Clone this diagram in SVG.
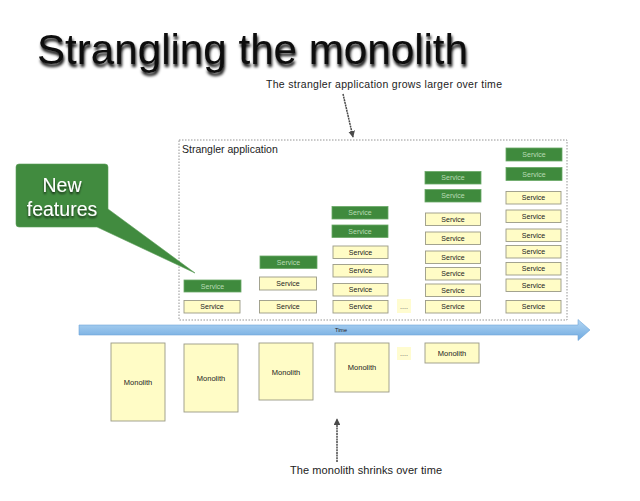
<svg xmlns="http://www.w3.org/2000/svg" width="640" height="501" viewBox="0 0 640 501">
<defs>
<filter id="tshadow" x="-5%" y="-20%" width="110%" height="160%">
<feGaussianBlur in="SourceAlpha" stdDeviation="1.8"/>
<feOffset dx="1" dy="3" result="b"/>
<feComponentTransfer><feFuncA type="linear" slope="1"/></feComponentTransfer>
<feMerge><feMergeNode/><feMergeNode in="SourceGraphic"/></feMerge>
</filter>
<filter id="wshadow" x="-10%" y="-20%" width="120%" height="150%">
<feGaussianBlur in="SourceAlpha" stdDeviation="1"/>
<feOffset dx="0" dy="1.5"/>
<feComponentTransfer><feFuncA type="linear" slope="0.7"/></feComponentTransfer>
<feMerge><feMergeNode/><feMergeNode in="SourceGraphic"/></feMerge>
</filter>
<linearGradient id="timeg" x1="0" y1="0" x2="0" y2="1">
<stop offset="0" stop-color="#b3d6f3"/>
<stop offset="1" stop-color="#6ea9e0"/>
</linearGradient>
<marker id="ah" viewBox="0 0 10 10" refX="9" refY="5" markerWidth="4.5" markerHeight="4.5" orient="auto">
<path d="M0,0 L10,5 L0,10 z" fill="#4a4a4a"/>
</marker>
<style>
.title{font-family:"Liberation Sans",Arial,sans-serif;font-size:42.5px;fill:#111}
.lbl{font-family:"Liberation Sans",Arial,sans-serif;fill:#222}
.g rect{fill:#3f8a3d;stroke:#6aa866;stroke-width:0.8}
.g text{font-family:"Liberation Sans",Arial,sans-serif;font-size:7px;fill:#b9dbb5;text-anchor:middle}
.y rect{fill:#fffcc6;stroke:#9a9a86;stroke-width:0.9}
.y text{font-family:"Liberation Sans",Arial,sans-serif;font-size:7px;fill:#222;text-anchor:middle}
.m rect{fill:#fffcc6;stroke:#9a9a86;stroke-width:0.9}
.m text{font-family:"Liberation Sans",Arial,sans-serif;font-size:7.5px;fill:#222;text-anchor:middle}
.dots rect{fill:#fffcd0}
.dots text{font-family:"Liberation Sans",Arial,sans-serif;font-size:7px;fill:#555;text-anchor:middle}
.conn{stroke:#4a4a4a;stroke-width:1.5;stroke-dasharray:2 0.7;fill:none}
</style>
</defs>
<rect width="640" height="501" fill="#ffffff"/>

<text class="title" x="37" y="64" filter="url(#tshadow)" textLength="431" lengthAdjust="spacingAndGlyphs">Strangling the monolith</text>

<g id="strangler-box">
<rect x="179" y="140" width="388" height="180" fill="none" stroke="#888" stroke-width="0.9" stroke-dasharray="1.5 1.5"/>
<text class="lbl" x="182" y="153" font-size="10.5">Strangler application</text>
</g>

<g id="subtitle-top"><text class="lbl" x="266" y="88" font-size="10.5" textLength="236">The strangler application grows larger over time</text></g>
<g id="subtitle-bottom"><text class="lbl" x="290" y="474" font-size="11" textLength="152">The monolith shrinks over time</text></g>

<g id="callout">
<path d="M19,164 H105 Q108,164 108,167 V209 L195,273 L97,227 H19 Q16,227 16,224 V167 Q16,164 19,164 z" fill="#418b3f" stroke="#5c9e59" stroke-width="0.6"/>
<g filter="url(#wshadow)" font-family="'Liberation Sans',Arial,sans-serif" font-size="19.5" fill="#ffffff" text-anchor="middle">
<text x="62" y="192">New</text>
<text x="62" y="216">features</text>
</g>
</g>

<g id="time-arrow">
<path d="M79,325 H578 V319.5 L590,330 L578,340.5 V335 H79 z" fill="url(#timeg)" stroke="#6fa6d8" stroke-width="0.6"/>
<text class="lbl" x="341" y="332" font-size="5.5" text-anchor="middle" fill="#444">Time</text>
</g>

<g id="connectors">
<line class="conn" x1="343" y1="94" x2="353" y2="137" marker-end="url(#ah)"/>
<line class="conn" x1="337" y1="462" x2="337" y2="419" marker-end="url(#ah)"/>
</g>

<g id="col1">
<g class="g"><rect x="184" y="280" width="57" height="12"/><text x="212.5" y="288.5">Service</text></g>
<g class="y"><rect x="184" y="300.5" width="56" height="12.5"/><text x="212" y="309.2">Service</text></g>
</g>

<g id="col2">
<g class="g"><rect x="260" y="256" width="57" height="12.5"/><text x="288.5" y="264.7">Service</text></g>
<g class="y"><rect x="259.5" y="277" width="57" height="13"/><text x="288" y="286">Service</text></g>
<g class="y"><rect x="259.5" y="300.5" width="57" height="12.5"/><text x="288" y="309.2">Service</text></g>
</g>

<g id="col3">
<g class="g"><rect x="332" y="206.5" width="56" height="12.5"/><text x="360" y="215.2">Service</text></g>
<g class="g"><rect x="332" y="225" width="56" height="12.5"/><text x="360" y="233.7">Service</text></g>
<g class="y"><rect x="333" y="246" width="55" height="12.5"/><text x="360.5" y="254.7">Service</text></g>
<g class="y"><rect x="333" y="264.5" width="55" height="12.5"/><text x="360.5" y="273.2">Service</text></g>
<g class="y"><rect x="333" y="283.5" width="55" height="12.5"/><text x="360.5" y="292.2">Service</text></g>
<g class="y"><rect x="333" y="300.5" width="55" height="12.5"/><text x="360.5" y="309.2">Service</text></g>
</g>

<g id="dots-top" class="dots"><rect x="397" y="299" width="14" height="14"/><text x="404" y="309">....</text></g>

<g id="col4">
<g class="g"><rect x="425" y="171.5" width="56" height="12.5"/><text x="453" y="180.2">Service</text></g>
<g class="g"><rect x="425" y="189.5" width="56" height="12.5"/><text x="453" y="198.2">Service</text></g>
<g class="y"><rect x="425.5" y="213" width="55" height="12.5"/><text x="453" y="221.7">Service</text></g>
<g class="y"><rect x="425.5" y="232" width="55" height="12.5"/><text x="453" y="240.7">Service</text></g>
<g class="y"><rect x="425.5" y="251" width="55" height="12.5"/><text x="453" y="259.7">Service</text></g>
<g class="y"><rect x="425.5" y="267.5" width="55" height="12.5"/><text x="453" y="276.2">Service</text></g>
<g class="y"><rect x="425.5" y="284" width="55" height="12.5"/><text x="453" y="292.7">Service</text></g>
<g class="y"><rect x="425.5" y="300.5" width="55" height="12.5"/><text x="453" y="309.2">Service</text></g>
</g>

<g id="col5">
<g class="g"><rect x="506" y="148" width="56" height="13"/><text x="534" y="157">Service</text></g>
<g class="g"><rect x="506" y="167.5" width="56" height="13"/><text x="534" y="176.5">Service</text></g>
<g class="y"><rect x="506" y="191.5" width="55" height="12.5"/><text x="533.5" y="200.2">Service</text></g>
<g class="y"><rect x="506" y="210" width="55" height="12.5"/><text x="533.5" y="218.7">Service</text></g>
<g class="y"><rect x="506" y="229" width="55" height="12.5"/><text x="533.5" y="237.7">Service</text></g>
<g class="y"><rect x="506" y="245.5" width="55" height="12.5"/><text x="533.5" y="254.2">Service</text></g>
<g class="y"><rect x="506" y="262.5" width="55" height="12.5"/><text x="533.5" y="271.2">Service</text></g>
<g class="y"><rect x="506" y="279" width="55" height="12.5"/><text x="533.5" y="287.7">Service</text></g>
<g class="y"><rect x="506" y="300.5" width="55" height="12.5"/><text x="533.5" y="309.2">Service</text></g>
</g>

<g id="monolith1" class="m"><rect x="111" y="343" width="54" height="78"/><text x="138" y="385">Monolith</text></g>
<g id="monolith2" class="m"><rect x="184" y="344" width="54" height="68"/><text x="211" y="381">Monolith</text></g>
<g id="monolith3" class="m"><rect x="259" y="343" width="54" height="57"/><text x="286" y="375">Monolith</text></g>
<g id="monolith4" class="m"><rect x="335" y="343" width="54" height="49"/><text x="362" y="370">Monolith</text></g>
<g id="dots-bottom" class="dots"><rect x="397" y="347" width="14" height="13"/><text x="404" y="356">....</text></g>
<g id="monolith5" class="m"><rect x="425" y="343" width="54" height="20"/><text x="452" y="356">Monolith</text></g>
</svg>
